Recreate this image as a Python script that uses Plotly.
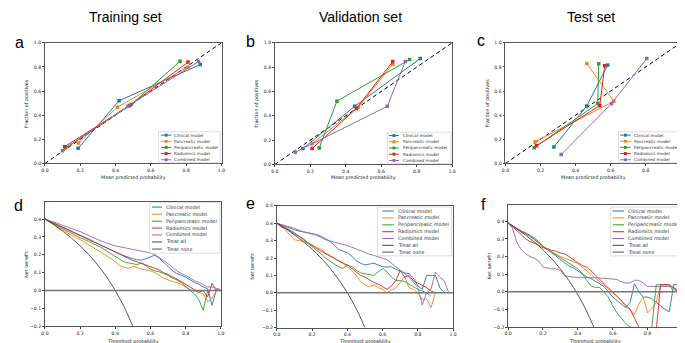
import plotly.graph_objects as go

# ---------------- data ----------------
model_names = ["Clinical model", "Pancreatic model", "Peripancreatic model",
               "Radiomics model", "Combined model"]
model_colors = ["#1f77b4", "#ff7f0e", "#2ca02c", "#d62728", "#9467bd"]

# calibration curves: mean predicted probability / fraction of positives
train_pred = [[0.188, 0.42, 0.88], [0.19, 0.41, 0.81], [0.117, 0.49, 0.765],
              [0.112, 0.48, 0.81], [0.099, 0.47, 0.87]]
train_frac = [[0.125, 0.52, 0.82], [0.17, 0.466, 0.80], [0.13, 0.49, 0.847],
              [0.139, 0.48, 0.84], [0.106, 0.475, 0.845]]
valid_pred = [[0.158, 0.45, 0.82], [0.21, 0.47, 0.665], [0.25, 0.35, 0.76],
              [0.21, 0.46, 0.665], [0.115, 0.634, 0.736]]
valid_frac = [[0.13, 0.478, 0.87], [0.17, 0.47, 0.824], [0.135, 0.52, 0.862],
              [0.13, 0.46, 0.846], [0.10, 0.478, 0.846]]
test_pred = [[0.276, 0.464, 0.583], [0.169, 0.618, 0.464], [0.164, 0.526, 0.532],
             [0.177, 0.538, 0.566], [0.318, 0.605, 0.806]]
test_frac = [[0.136, 0.477, 0.817], [0.18, 0.515, 0.828], [0.13, 0.496, 0.826],
             [0.147, 0.48, 0.81], [0.074, 0.496, 0.87]]
diag_line = [0.0, 1.0]

# decision curves
thresholds = [0.0, 0.025, 0.05, 0.075, 0.1, 0.125, 0.15, 0.175, 0.2, 0.225,
              0.25, 0.275, 0.3, 0.325, 0.35, 0.375, 0.4, 0.425, 0.45, 0.475,
              0.5, 0.525, 0.55, 0.575, 0.6, 0.625, 0.65, 0.675, 0.7, 0.725,
              0.75, 0.775, 0.8, 0.825, 0.85, 0.875, 0.9, 0.925, 0.95, 0.975, 1.0]
all_thresholds = [0.0, 0.05, 0.1, 0.15, 0.2, 0.25, 0.3, 0.35, 0.4, 0.45, 0.5]
none_thresholds = [0.0, 1.0]
none_benefit = [0.0, 0.0]

train_all = [0.4, 0.368, 0.333, 0.294, 0.25, 0.2, 0.143, 0.077, 0.0, -0.091, -0.2]
train_nb = [
    [0.40, 0.39, 0.378, 0.366, 0.355, 0.344, 0.333, 0.322, 0.312, 0.300, 0.288,
     0.276, 0.262, 0.250, 0.240, 0.230, 0.218, 0.205, 0.195, 0.185, 0.178, 0.172,
     0.170, 0.178, 0.190, 0.198, 0.180, 0.160, 0.135, 0.110, 0.095, 0.085, 0.075,
     0.060, 0.045, 0.035, 0.020, 0.010, -0.083, 0.005, 0.0],
    [0.40, 0.385, 0.37, 0.355, 0.34, 0.325, 0.31, 0.295, 0.285, 0.27, 0.255, 0.24,
     0.225, 0.21, 0.195, 0.18, 0.16, 0.14, 0.13, 0.125, 0.135, 0.13, 0.12, 0.115,
     0.11, 0.10, 0.085, 0.07, 0.06, 0.05, 0.045, 0.035, 0.02, 0.005, -0.005, -0.01,
     -0.02, -0.064, -0.045, 0.0, 0.0],
    [0.40, 0.388, 0.373, 0.36, 0.347, 0.333, 0.32, 0.307, 0.295, 0.285, 0.272,
     0.262, 0.25, 0.238, 0.222, 0.205, 0.19, 0.175, 0.16, 0.155, 0.15, 0.145, 0.155,
     0.135, 0.12, 0.11, 0.105, 0.095, 0.085, 0.07, 0.06, 0.045, 0.025, 0.005, -0.02,
     -0.05, -0.11, 0.0, 0.0, None, None],
    [0.40, 0.388, 0.376, 0.364, 0.352, 0.34, 0.328, 0.316, 0.305, 0.293, 0.283,
     0.272, 0.262, 0.25, 0.238, 0.226, 0.214, 0.2, 0.19, 0.178, 0.168, 0.16, 0.152,
     0.143, 0.135, 0.125, 0.115, 0.1, 0.09, 0.075, 0.064, 0.05, 0.035, 0.02, 0.009,
     -0.01, 0.0, -0.036, 0.04, 0.0, 0.0],
    [0.40, 0.393, 0.385, 0.375, 0.365, 0.355, 0.345, 0.338, 0.33, 0.318, 0.305,
     0.297, 0.285, 0.275, 0.265, 0.257, 0.25, 0.245, 0.24, 0.235, 0.232, 0.228,
     0.222, 0.218, 0.21, 0.2, 0.185, 0.168, 0.15, 0.128, 0.11, 0.095, 0.085, 0.07,
     0.055, 0.046, 0.035, 0.02, 0.02, 0.012, 0.005],
]

valid_all = [0.4, 0.368, 0.333, 0.294, 0.25, 0.2, 0.143, 0.077, 0.0, -0.091, -0.2]
valid_nb = [
    [0.40, 0.39, 0.38, 0.37, 0.362, 0.355, 0.35, 0.347, 0.343, 0.335, 0.325, 0.31,
     0.298, 0.275, 0.25, 0.24, 0.23, 0.21, 0.185, 0.17, 0.16, 0.165, 0.17, 0.16,
     0.15, 0.148, 0.15, 0.135, 0.125, 0.115, 0.11, 0.085, 0.04, 0.02, 0.10, 0.10,
     0.10, 0.03, 0.0, None, None],
    [0.40, 0.38, 0.36, 0.33, 0.305, 0.30, 0.295, 0.285, 0.275, 0.26, 0.25, 0.23,
     0.215, 0.20, 0.185, 0.17, 0.15, 0.125, 0.10, 0.065, 0.045, 0.035, 0.045, 0.03,
     0.02, 0.0, 0.015, 0.03, 0.06, 0.095, 0.03, 0.02, 0.0, -0.04, -0.035, -0.085,
     0.0, None, None, None, None],
    [0.40, 0.388, 0.375, 0.36, 0.345, 0.325, 0.31, 0.29, 0.27, 0.245, 0.225, 0.20,
     0.18, 0.165, 0.15, 0.14, 0.16, 0.15, 0.13, 0.115, 0.11, 0.105, 0.10, 0.12,
     0.14, 0.12, 0.09, 0.07, 0.07, 0.065, 0.05, 0.035, 0.02, 0.01, 0.0, -0.02,
     None, None, None, None, None],
    [0.40, 0.38, 0.37, 0.355, 0.34, 0.325, 0.31, 0.29, 0.27, 0.255, 0.24, 0.225,
     0.21, 0.195, 0.18, 0.17, 0.16, 0.14, 0.12, 0.10, 0.09, 0.075, 0.06, 0.05,
     0.035, 0.02, 0.04, 0.07, 0.13, 0.09, 0.10, 0.07, 0.055, 0.04, 0.03, 0.01,
     0.0, None, None, None, None],
    [0.40, 0.393, 0.385, 0.378, 0.37, 0.36, 0.35, 0.345, 0.338, 0.33, 0.318,
     0.305, 0.298, 0.29, 0.283, 0.278, 0.272, 0.262, 0.25, 0.238, 0.228, 0.222,
     0.215, 0.205, 0.198, 0.19, 0.172, 0.15, 0.13, 0.11, 0.09, 0.06, 0.03, -0.07,
     0.0, 0.02, 0.12, 0.09, 0.07, 0.0, None],
]

test_all = [0.39, 0.358, 0.322, 0.282, 0.238, 0.187, 0.129, 0.062, -0.017, -0.109, -0.22]
test_nb = [
    [0.39, 0.375, 0.36, 0.345, 0.335, 0.32, 0.305, 0.285, 0.258, 0.24, 0.22, 0.20,
     0.18, 0.16, 0.145, 0.135, 0.12, 0.10, 0.085, 0.075, 0.06, 0.045, 0.03, 0.0,
     -0.03, -0.05, -0.07, -0.09, -0.06, 0.045, 0.0, -0.03, -0.03, -0.04, -0.06,
     -0.08, -0.10, -0.113, 0.04, 0.04, 0.0],
    [0.39, 0.372, 0.357, 0.343, 0.33, 0.315, 0.30, 0.28, 0.255, 0.24, 0.225, 0.21,
     0.20, 0.19, 0.18, 0.17, 0.16, 0.14, 0.12, 0.10, 0.075, 0.06, 0.04, 0.02, 0.0,
     -0.025, -0.05, -0.085, -0.10, -0.13, -0.07, -0.03, -0.12, -0.095, -0.06, 0.04,
     0.04, 0.04, 0.02, 0.0, None],
    [0.39, 0.37, 0.355, 0.34, 0.33, 0.315, 0.295, 0.275, 0.255, 0.24, 0.225, 0.21,
     0.195, 0.175, 0.16, 0.145, 0.13, 0.105, 0.065, 0.035, 0.025, 0.025, 0.0,
     -0.03, -0.08, -0.12, -0.15, -0.18, -0.20, -0.21, -0.22, -0.22, -0.25, -0.20,
     0.04, 0.04, 0.04, 0.04, 0.0, None, None],
    [0.39, 0.37, 0.35, 0.325, 0.30, 0.285, 0.275, 0.265, 0.25, 0.245, 0.235, 0.23,
     0.22, 0.215, 0.20, 0.18, 0.165, 0.15, 0.14, 0.12, 0.095, 0.07, 0.045, 0.02,
     0.0, -0.025, -0.05, -0.08, -0.10, -0.15, -0.20, -0.22, -0.22, -0.22, -0.22,
     0.04, 0.04, 0.04, 0.02, 0.0, None],
    [0.39, 0.36, 0.28, 0.24, 0.215, 0.20, 0.19, 0.175, 0.14, 0.135, 0.13, 0.13,
     0.12, 0.09, 0.085, 0.083, 0.082, 0.08, 0.078, 0.08, 0.08, 0.078, 0.08, 0.075,
     0.072, 0.07, 0.055, 0.05, 0.05, 0.065, 0.065, 0.05, 0.03, 0.03, 0.03, 0.03,
     0.03, 0.03, 0.025, 0.01, 0.0],
]

set_titles = ["Training set", "Validation set", "Test set"]
panel_letters = ["a", "b", "c", "d", "e", "f"]
unit_ticks = [0.0, 0.2, 0.4, 0.6, 0.8, 1.0]
nb_ticks = [-0.2, -0.1, 0.0, 0.1, 0.2, 0.3, 0.4]
nb_ticks_e = [-0.2, -0.1, 0.0, 0.1, 0.2, 0.3, 0.4, 0.5]

# ---------------- layout helpers ----------------
W, H = 685, 343


def PX(x):
    return x / W


def PY(y):
    return 1 - y / H


TICKFONT = dict(family="DejaVu Sans", size=4.6, color="#222")
LABFONT = dict(family="DejaVu Sans", size=4.8, color="#222")

# axes boxes in pixels: (x0, x1, ytop, ybottom), y range
panels = [
    dict(box=(33.3, 212.0, 33.3, 155.7), yr=[0, 1], yt=unit_ticks),
    dict(box=(266.0, 445.3, 33.3, 156.7), yr=[0, 1], yt=unit_ticks),
    dict(box=(499.3, 676.7, 33.3, 155.7), yr=[0, 1], yt=unit_ticks),
    dict(box=(33.3, 211.3, 194.5, 321.0), yr=[-0.2, 0.497], yt=nb_ticks),
    dict(box=(268.0, 446.3, 198.7, 322.3), yr=[-0.2, 0.5], yt=nb_ticks_e),
    dict(box=(502.0, 678.3, 198.3, 321.7), yr=[-0.2, 0.49], yt=nb_ticks),
]

fig = go.Figure()
layout = dict(width=W, height=H, margin=dict(l=0, r=0, t=0, b=0),
              paper_bgcolor="white", plot_bgcolor="white", showlegend=False)

for i, p in enumerate(panels):
    s = "" if i == 0 else str(i + 1)
    x0, x1, yt, yb = p["box"]
    layout["xaxis" + s] = dict(
        domain=[PX(x0), PX(x1)], range=[0, 1], anchor="y" + s,
        tickvals=unit_ticks, tickformat=".1f", ticks="outside", ticklen=2,
        tickwidth=0.6, tickcolor="#444", tickfont=TICKFONT, showgrid=False,
        zeroline=False, showline=True, linecolor="#555", linewidth=0.8,
        mirror=True, fixedrange=True)
    layout["yaxis" + s] = dict(
        domain=[PY(yb), PY(yt)], range=p["yr"], anchor="x" + s,
        tickvals=p["yt"], tickformat=".1f", ticks="outside", ticklen=2,
        tickwidth=0.6, tickcolor="#444", tickfont=TICKFONT, showgrid=False,
        zeroline=False, showline=True, linecolor="#555", linewidth=0.8,
        mirror=True, fixedrange=True)

# ---------------- calibration traces ----------------
cal_sets = [(train_pred, train_frac), (valid_pred, valid_frac), (test_pred, test_frac)]
for i, (preds, fracs) in enumerate(cal_sets):
    s = "" if i == 0 else str(i + 1)
    fig.add_trace(go.Scatter(x=diag_line, y=diag_line, mode="lines",
                             line=dict(color="black", width=1, dash="4px,3px"),
                             xaxis="x" + s, yaxis="y" + s, hoverinfo="skip"))
    for m in range(5):
        fig.add_trace(go.Scatter(x=preds[m], y=fracs[m], mode="lines+markers",
                                 name=model_names[m],
                                 line=dict(color=model_colors[m], width=1),
                                 marker=dict(symbol="square", size=3.5,
                                             color=model_colors[m]),
                                 xaxis="x" + s, yaxis="y" + s))

# ---------------- decision curve traces ----------------
dca_sets = [(train_nb, train_all), (valid_nb, valid_all), (test_nb, test_all)]
for i, (nbs, tall) in enumerate(dca_sets):
    s = str(i + 4)
    for m in range(5):
        fig.add_trace(go.Scatter(x=thresholds, y=nbs[m], mode="lines",
                                 name=model_names[m],
                                 line=dict(color=model_colors[m], width=0.9),
                                 connectgaps=False,
                                 xaxis="x" + s, yaxis="y" + s))
    fig.add_trace(go.Scatter(x=all_thresholds, y=tall, mode="lines", name="Treat all",
                             line=dict(color="#444444", width=0.9, shape="spline"),
                             xaxis="x" + s, yaxis="y" + s))
    fig.add_trace(go.Scatter(x=none_thresholds, y=none_benefit, mode="lines",
                             name="Treat none",
                             line=dict(color="#777777", width=1.5),
                             xaxis="x" + s, yaxis="y" + s))

# ---------------- manual legends ----------------
shapes = []
annotations = []


def add_legend(box, rows, line_x, text_x, labels, colors, markers, fsize):
    bx0, by0, bx1, by1 = box
    shapes.append(dict(type="rect", xref="paper", yref="paper",
                       x0=PX(bx0), x1=PX(bx1), y0=PY(by1), y1=PY(by0),
                       line=dict(color="#d0d0d0", width=0.7),
                       fillcolor="rgba(255,255,255,0.85)", layer="above"))
    for lab, col, yc in zip(labels, colors, rows):
        shapes.append(dict(type="line", xref="paper", yref="paper",
                           x0=PX(line_x[0]), x1=PX(line_x[1]), y0=PY(yc), y1=PY(yc),
                           line=dict(color=col, width=1), layer="above"))
        if markers:
            xm = (line_x[0] + line_x[1]) / 2
            shapes.append(dict(type="rect", xref="paper", yref="paper",
                               x0=PX(xm - 1.5), x1=PX(xm + 1.5),
                               y0=PY(yc + 1.5), y1=PY(yc - 1.5),
                               line=dict(width=0), fillcolor=col, layer="above"))
        annotations.append(dict(text=lab, xref="paper", yref="paper",
                                x=PX(text_x), y=PY(yc), xanchor="left",
                                yanchor="middle", showarrow=False, borderpad=0,
                                font=dict(family="DejaVu Sans", size=fsize,
                                          color="#333")))


cal_rows_a = [127.0, 133.2, 139.4, 145.7, 152.0]
add_legend((148.3, 123.5, 210.8, 155.0), cal_rows_a, (150.7, 161.3), 163.3,
           model_names, model_colors, True, 4.2)
cal_rows_b = [127.4, 133.7, 140.0, 146.3, 152.7]
add_legend((379.7, 124.0, 444.0, 156.0), cal_rows_b, (381.3, 391.6), 394.7,
           model_names, model_colors, True, 4.2)
add_legend((613.7, 123.5, 675.8, 155.0), cal_rows_a, (615.3, 626.0), 628.3,
           model_names, model_colors, True, 4.2)

dca_labels = model_names + ["Treat all", "Treat none"]
dca_colors = model_colors + ["#444444", "#555555"]
rows_d = [200.0, 207.2, 214.3, 221.3, 228.3, 235.4, 242.6]
add_legend((139.3, 195.5, 210.3, 246.8), rows_d, (141.7, 151.7), 155.0,
           dca_labels, dca_colors, False, 4.8)
rows_e = [204.0, 211.0, 218.0, 225.0, 231.9, 238.8, 245.7]
add_legend((369.7, 200.0, 444.7, 249.5), rows_e, (374.7, 386.3), 389.7,
           dca_labels, dca_colors, False, 4.8)
add_legend((605.3, 200.0, 677.5, 249.5), rows_e, (607.7, 619.3), 622.7,
           dca_labels, dca_colors, False, 4.8)

# ---------------- titles, letters, axis titles ----------------
for txt, xc in zip(set_titles, [115.0, 353.0, 586.0]):
    annotations.append(dict(text=txt, xref="paper", yref="paper", x=PX(xc), y=PY(7.5),
                            xanchor="center", yanchor="middle", showarrow=False,
                            font=dict(family="Liberation Sans", size=14, color="black")))

letter_pos = [(1.0, 32.5), (235.0, 31.5), (468.0, 31.0),
              (0.5, 198.5), (235.0, 196.5), (473.0, 197.5)]
for lt, (lx, ly) in zip(panel_letters, letter_pos):
    annotations.append(dict(text=lt, xref="paper", yref="paper", x=PX(lx), y=PY(ly),
                            xanchor="left", yanchor="middle", showarrow=False,
                            font=dict(family="Liberation Sans", size=16, color="black")))

for i, p in enumerate(panels):
    x0, x1, yt, yb = p["box"]
    if i < 3:
        xlab, ylab = "Mean predicted probability", "Fraction of positives"
        ylab_x = [14.0, 248.0, 481.0][i]
        xlab_y = 169.5
    else:
        xlab, ylab = "Threshold probability", "Net benefit"
        ylab_x = [15.0, 244.0, 483.0][i - 3]
        xlab_y = 336.0
    annotations.append(dict(text=xlab, xref="paper", yref="paper",
                            x=PX((x0 + x1) / 2), y=PY(xlab_y), xanchor="center",
                            yanchor="middle", showarrow=False, borderpad=0,
                            font=LABFONT))
    annotations.append(dict(text=ylab, xref="paper", yref="paper",
                            x=PX(ylab_x), y=PY((yt + yb) / 2), xanchor="center",
                            yanchor="middle", showarrow=False, textangle=-90,
                            borderpad=0, font=LABFONT))

layout["shapes"] = shapes
layout["annotations"] = annotations
fig.update_layout(**layout)
fig.write_html("out.html")
